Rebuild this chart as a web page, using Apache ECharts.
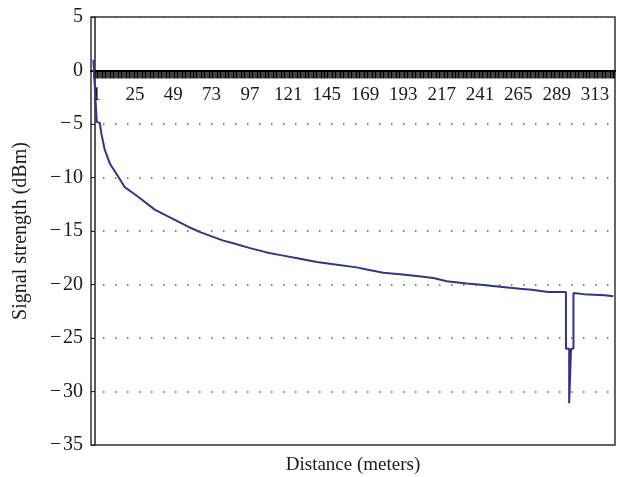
<!DOCTYPE html>
<html>
<head>
<meta charset="utf-8">
<script src="https://cdn.jsdelivr.net/npm/echarts@6/dist/echarts.min.js"></script>
<style>
  html, body { margin: 0; padding: 0; background: #fff; }
  #chart { width: 618px; height: 477px; }
</style>
</head>
<body>
<div id="chart"></div>
<script>
// distance (m), with matching signal strength (dBm)
const distance = [-1, 1.1, 3.0, 4.0, 6.1, 9.3, 14.5, 18.6, 27.0, 37.4, 47.8, 58.3, 65.8, 80.3, 86.6, 97.1, 107.5, 117.9, 128.3, 138.8, 149.2, 163.8, 170.1, 180.5, 191.0, 201.4, 211.8, 220.2, 232.7, 243.1, 253.5, 266.0, 273.3, 283.7, 294.8, 294.8, 296.8, 296.8, 298.0, 298.0, 299.5, 299.5, 305.6, 319.2, 324.4]
const signal = [1.0, -4.8, -4.9, -5.9, -7.4, -8.7, -9.9, -10.9, -11.8, -13.0, -13.8, -14.6, -15.1, -15.9, -16.15, -16.6, -17.0, -17.3, -17.6, -17.9, -18.1, -18.4, -18.6, -18.9, -19.05, -19.2, -19.4, -19.7, -19.9, -20.05, -20.2, -20.4, -20.5, -20.7, -20.7, -26.0, -26.0, -31.1, -31.1, -26.0, -26.0, -20.8, -20.9, -21.0, -21.1]

// x tick labels (every 24th category)
const xLabels = [1, 25, 49, 73, 97, 121, 145, 169, 193, 217, 241, 265, 289, 313]

// one tick per category along the zero line
const xTicks = []
for (let d = -1; d <= 325; d++) xTicks.push(d)

const FONT = '"Liberation Serif", "DejaVu Serif", serif'
const INK = '#1a1a1a'

const chart = echarts.init(document.getElementById('chart'))

chart.setOption({
  animation: false,
  grid: {
    left: 91,
    right: 3,
    top: 17,
    bottom: 32,
    outerBoundsMode: 'none',
    containLabel: false,
    show: true,
    borderColor: '#333',
    borderWidth: 1.5,
  },
  xAxis: {
    type: 'value',
    min: -2.5,
    max: 325.5,
    name: 'Distance (meters)',
    nameLocation: 'middle',
    nameGap: 11,
    nameTextStyle: { fontFamily: FONT, fontSize: 19, color: INK },
    axisLine: { onZero: true, lineStyle: { color: '#000', width: 2 } },
    axisTick: {
      show: true,
      customValues: xTicks,
      length: 8,
      lineStyle: { color: '#000', width: 1.5 },
    },
    // labels stay at the grid bottom, so pull them up under the zero line
    axisLabel: {
      customValues: xLabels,
      margin: -359,
      fontFamily: FONT,
      fontSize: 19,
      color: INK,
    },
    splitLine: { show: false },
  },
  yAxis: {
    type: 'value',
    min: -35,
    max: 5,
    interval: 5,
    name: 'Signal strength (dBm)',
    nameLocation: 'middle',
    nameGap: 60,
    nameTextStyle: { fontFamily: FONT, fontSize: 20, color: INK },
    axisLine: { show: true, lineStyle: { color: '#222', width: 1.5 } },
    axisTick: { show: true, length: 4, lineStyle: { color: '#222' } },
    axisLabel: {
      margin: 8,
      fontFamily: FONT,
      fontSize: 20,
      color: INK,
      formatter: v => String(v).replace('-', '\u2212\u200a'),
    },
    splitLine: {
      show: true,
      lineStyle: { color: '#555', width: 1.5, type: [1.5, 10.5] },
    },
  },
  series: [
    {
      type: 'line',
      data: distance.map((d, i) => [d, signal[i]]),
      showSymbol: false,
      lineStyle: { color: '#34348c', width: 2 },
    },
  ],
})
</script>
</body>
</html>
